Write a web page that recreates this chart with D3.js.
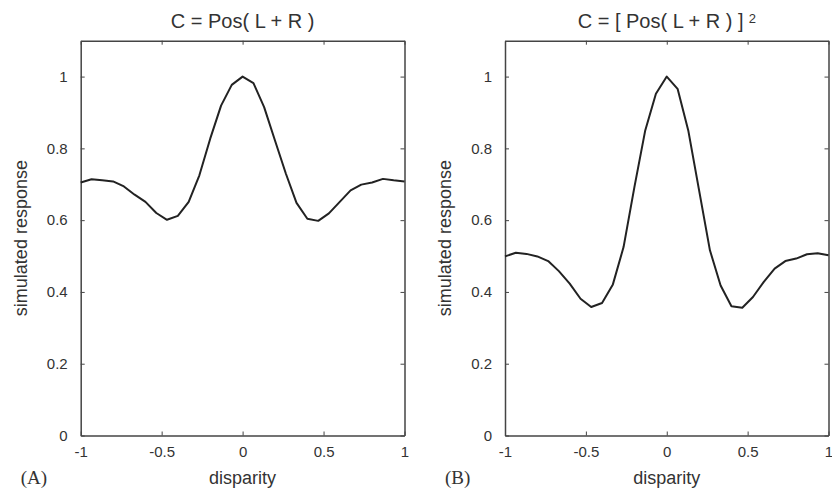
<!DOCTYPE html>
<html>
<head>
<meta charset="utf-8">
<script src="https://cdn.jsdelivr.net/npm/d3@7/dist/d3.min.js"></script>
<style>
  body { margin: 0; background: #fff; }
  svg text { font-family: "Liberation Sans", Arial, sans-serif; fill: #333; }
  .axis path, .axis line { stroke: #444; }
  .axis path { stroke-width: 1.5; }
</style>
</head>
<body>
<div id="chart"></div>
<script>
// disparity sample points (31 samples, step 1/15)
const disparity = [-1, -0.933, -0.867, -0.8, -0.733, -0.667, -0.6, -0.533, -0.467, -0.4,
  -0.333, -0.267, -0.2, -0.133, -0.067, 0, 0.067, 0.133, 0.2, 0.267,
  0.333, 0.4, 0.467, 0.533, 0.6, 0.667, 0.733, 0.8, 0.867, 0.933, 1];

// panel A: C = Pos(L + R)
const responseA = [0.705, 0.714, 0.711, 0.708, 0.694, 0.671, 0.651, 0.620, 0.601, 0.612,
  0.651, 0.725, 0.827, 0.919, 0.977, 1.0, 0.982, 0.915, 0.822, 0.730,
  0.648, 0.604, 0.598, 0.619, 0.651, 0.683, 0.699, 0.705, 0.715, 0.711, 0.708];

// panel B: C = [Pos(L + R)]^2
const responseB = [0.499, 0.509, 0.506, 0.499, 0.486, 0.458, 0.423, 0.381, 0.358, 0.369,
  0.421, 0.525, 0.692, 0.850, 0.952, 1.0, 0.966, 0.850, 0.683, 0.516,
  0.418, 0.360, 0.356, 0.386, 0.428, 0.465, 0.486, 0.493, 0.505, 0.508, 0.502];

const xTicks = [-1, -0.5, 0, 0.5, 1];
const yTicks = [0, 0.2, 0.4, 0.6, 0.8, 1];

const W = 832, H = 492;
const svg = d3.select('#chart').append('svg')
  .attr('width', W)
  .attr('height', H);

function drawPanel ({left, right, top, bottom, values, title, sup, tag}) {
  const x = d3.scaleLinear().domain([-1, 1]).range([left, right]);
  const y = d3.scaleLinear().domain([0, 1.1]).range([bottom, top]);
  const fmt = (d) => String(d);

  const g = svg.append('g');

  g.append('g').attr('class', 'axis')
    .attr('transform', 'translate(0,' + bottom + ')')
    .call(d3.axisBottom(x).tickValues(xTicks).tickFormat(fmt)
      .tickSizeInner(-4).tickSizeOuter(0).tickPadding(11));

  g.append('g').attr('class', 'axis')
    .attr('transform', 'translate(0,' + top + ')')
    .call(d3.axisTop(x).tickValues(xTicks).tickFormat('')
      .tickSizeInner(-4).tickSizeOuter(0));

  g.append('g').attr('class', 'axis')
    .attr('transform', 'translate(' + left + ',0)')
    .call(d3.axisLeft(y).tickValues(yTicks).tickFormat(fmt)
      .tickSizeInner(-4).tickSizeOuter(0).tickPadding(13));

  g.append('g').attr('class', 'axis')
    .attr('transform', 'translate(' + right + ',0)')
    .call(d3.axisRight(y).tickValues(yTicks).tickFormat('')
      .tickSizeInner(-4).tickSizeOuter(0));

  g.selectAll('.axis text')
    .style('font-size', '15px')
    .style('font-family', '"Liberation Sans", Arial, sans-serif')
    .attr('fill', '#333');

  const line = d3.line()
    .x((d, i) => x(disparity[i]))
    .y((d) => y(d));

  g.append('path')
    .datum(values)
    .attr('d', line)
    .attr('fill', 'none')
    .attr('stroke', '#222')
    .attr('stroke-width', 2)
    .attr('stroke-linejoin', 'round');

  // title
  const t = g.append('text')
    .attr('x', (left + right) / 2)
    .attr('y', 28)
    .attr('text-anchor', 'middle')
    .style('font-size', '20px')
    .text(title);
  if (sup) {
    t.append('tspan')
      .attr('dx', 5)
      .attr('dy', -5)
      .style('font-size', '13px')
      .text(sup);
  }

  // axis labels
  g.append('text')
    .attr('x', (left + right) / 2)
    .attr('y', 484)
    .attr('text-anchor', 'middle')
    .style('font-size', '18px')
    .text('disparity');

  g.append('text')
    .attr('transform', 'translate(' + (left - 54) + ',' + ((top + bottom) / 2) + ') rotate(-90)')
    .attr('text-anchor', 'middle')
    .style('font-size', '18px')
    .text('simulated response');

  g.append('text')
    .attr('x', left - 60)
    .attr('y', 484)
    .style('font-size', '19px')
    .style('font-family', '"Liberation Serif", "Times New Roman", serif')
    .text(tag);
}

drawPanel({left: 80.7, right: 404.5, top: 40.7, bottom: 435.5,
  values: responseA, title: 'C = Pos( L + R )', tag: '(A)'});
drawPanel({left: 505, right: 828.5, top: 40.7, bottom: 435.5,
  values: responseB, title: 'C = [ Pos( L + R ) ]', sup: '2', tag: '(B)'});
</script>
</body>
</html>
